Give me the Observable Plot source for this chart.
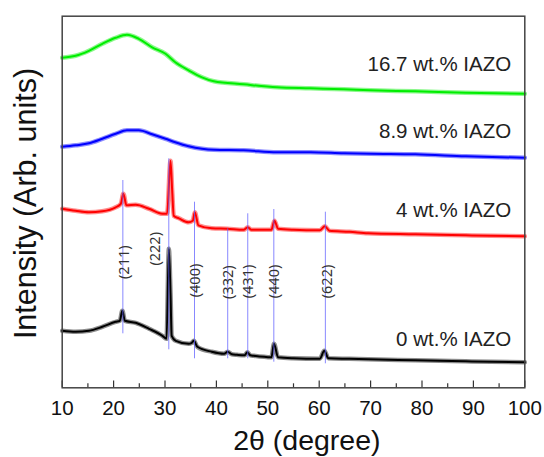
<!DOCTYPE html>
<html><head><meta charset="utf-8">
<script src="https://cdn.jsdelivr.net/npm/d3@7"></script>
<script src="https://cdn.jsdelivr.net/npm/@observablehq/plot@0.6"></script>
<style>body{margin:0;background:#fff} #chart svg{display:block}</style>
</head><body><div id="chart"></div>
<script>
// 2θ (degree) and intensity (arb. units)
const x0 = [10, 12.6, 15.2, 17.8, 20.4, 21.2, 21.7, 22.2, 24.3, 26.9, 29.5, 30.3, 30.75, 31.07, 31.3, 32.1, 34.6, 35.2, 35.6, 36.3, 39.1, 41.5, 42.2, 43, 44, 45.5, 46, 46.6, 47.3, 50.7, 51.2, 52, 54.9, 60.1, 61, 61.8, 65.9, 69.5, 78.7, 88.5, 100];
const y0 = [57, 56, 57, 61, 66, 67, 77, 67, 65, 59, 52, 49, 139, 95, 52, 47, 44, 45, 47, 41, 36, 34, 36, 33.5, 33, 32.5, 35.5, 32.5, 32, 30.5, 44, 30.5, 29.5, 29, 37, 29.5, 29, 28.5, 27.5, 26.5, 25.5];

const x4 = [10, 12.6, 15.2, 17.8, 20.4, 21.4, 21.9, 22.5, 24.3, 26.9, 29.5, 30.4, 31.07, 31.4, 31.7, 32.7, 34.6, 35.4, 35.8, 36.5, 39.1, 42.1, 45.3, 46.1, 46.8, 48.5, 50.7, 51.3, 52, 54.9, 60.1, 61.1, 62, 65.9, 69.5, 78.7, 88.5, 100];
const y4 = [179, 177, 175.5, 176.5, 180.5, 184, 194, 182.5, 183, 179, 174, 174, 227, 197, 172, 169.5, 165.5, 167, 175.5, 162.5, 159.5, 159, 158, 160.5, 158, 158, 158, 167, 159, 158, 157.5, 161.5, 157, 156, 154.5, 153.5, 152.5, 151.5];

const x8 = [10, 12.6, 15.2, 17.8, 20.4, 22.6, 24.9, 27.5, 30.1, 32, 34.6, 37.2, 39.5, 45.3, 51.8, 58.3, 64.8, 70, 78.7, 88.5, 100];
const y8 = [241, 242.5, 244.5, 249, 254, 257.5, 257.5, 253.5, 249, 245.5, 241.5, 239, 238, 237.5, 235.5, 235.5, 234.5, 234, 233.5, 231.5, 230];

const x16 = [10, 12.6, 15.2, 17.8, 20.4, 22.6, 24.9, 27.5, 30.1, 32, 34.6, 37.2, 39.5, 45.3, 51.8, 58.3, 64.8, 70, 78.7, 88.5, 100];
const y16 = [330, 332, 337, 344, 350, 353, 349, 340.5, 334, 325.5, 317.5, 310.5, 306.5, 303.5, 300.5, 299.5, 298.5, 297.5, 296.5, 295, 294];

const seriesNames = ["0 wt.% IAZO", "4 wt.% IAZO", "8.9 wt.% IAZO", "16.7 wt.% IAZO"];
const seriesColors = ["#000000", "#ff0000", "#0000ff", "#00ee00"];
const seriesLabelY = [42.3, 170.6, 249.6, 316.6];
const seriesLabelX = 97.35;

// Reflection markers
const hklNames = ["(211)", "(222)", "(400)", "(332)", "(431)", "(440)", "(622)"];
const hklPos = [21.8, 30.74, 35.74, 42.2, 46.1, 51.17, 61.2];
const hklLo = [54, 38, 29, 29, 29, 25.6, 24];
const hklHi = [207.3, 229, 185.6, 159, 174, 178.3, 175.6];
const hklLabelX = [22.0, 28.1, 35.9, 42.4, 46.3, 51.35, 61.55];
const hklLabelY = [125.6, 139, 107.3, 105.6, 106.3, 106.3, 106.3];

const majorTicks = [10, 20, 30, 40, 50, 60, 70, 80, 90, 100];
const minorTicks = [15, 25, 35, 45, 55, 65, 75, 85, 95];

const xs = [x0, x4, x8, x16], ys = [y0, y4, y8, y16];
const rows = [];
xs.forEach((xa, i) => xa.forEach((x, j) => rows.push({series: seriesNames[i], x, y: ys[i][j]})));
const colorOf = Object.fromEntries(seriesNames.map((s, i) => [s, seriesColors[i]]));
const hkl = hklNames.map((n, i) => ({n, pos: hklPos[i], lo: hklLo[i], hi: hklHi[i], lx: hklLabelX[i], ly: hklLabelY[i]}));
const labels = seriesNames.map((n, i) => ({n, y: seriesLabelY[i], c: seriesColors[i]}));

const font = "'Liberation Sans', Arial, sans-serif";

const plot = Plot.plot({
  width: 544, height: 457,
  marginLeft: 61.7, marginRight: 19.7, marginTop: 15.7, marginBottom: 69.7,
  x: {domain: [10, 100], axis: null},
  y: {domain: [0, 371.6], axis: null},
  style: {fontFamily: font, background: "#fff"},
  marks: [
    Plot.line(rows, {x: "x", y: "y", z: "series", stroke: d => colorOf[d.series], strokeWidth: 4.5, strokeOpacity: 0.45, curve: "monotone-x"}),
    Plot.line(rows, {x: "x", y: "y", z: "series", stroke: d => colorOf[d.series], strokeWidth: 2, curve: "monotone-x"}),
    Plot.ruleX(hkl, {x: "pos", y1: "lo", y2: "hi", stroke: "#6060ff", strokeWidth: 1, strokeOpacity: 0.75}),
    Plot.text(hkl, {x: "lx", y: "ly", text: "n", rotate: -90, fontSize: 14.5, fill: "#333", fontFamily: "'Noto Sans', sans-serif"}),
    Plot.text(labels, {x: seriesLabelX, y: "y", text: "n", textAnchor: "end", lineAnchor: "bottom", fontSize: 20.5, fill: "#222"}),
    Plot.ruleX(majorTicks, {x: d => d, y1: 0, y2: 6.7, stroke: "#333", strokeWidth: 1.2}),
    Plot.ruleX(minorTicks, {x: d => d, y1: 0, y2: 4, stroke: "#333", strokeWidth: 1.2}),
    Plot.axisX({ticks: majorTicks, tickSize: 0, tickPadding: 12.5, fontSize: 20.5, label: null, tickFormat: d => String(d), fill: "#111"}),
    Plot.text(["2θ (degree)"], {x: 57.6, frameAnchor: "bottom", dy: 62, lineAnchor: "bottom", fontSize: 28.5, fill: "#111"}),
    Plot.text(["Intensity (Arb. units)"], {frameAnchor: "left", y: 184.3, dx: -35.7, rotate: -90, textAnchor: "middle", lineAnchor: "middle", fontSize: 30.5, fill: "#111"}),
    Plot.frame({stroke: "#444", strokeWidth: 1.5})
  ]
});
document.getElementById("chart").appendChild(plot);
</script>
</body></html>
